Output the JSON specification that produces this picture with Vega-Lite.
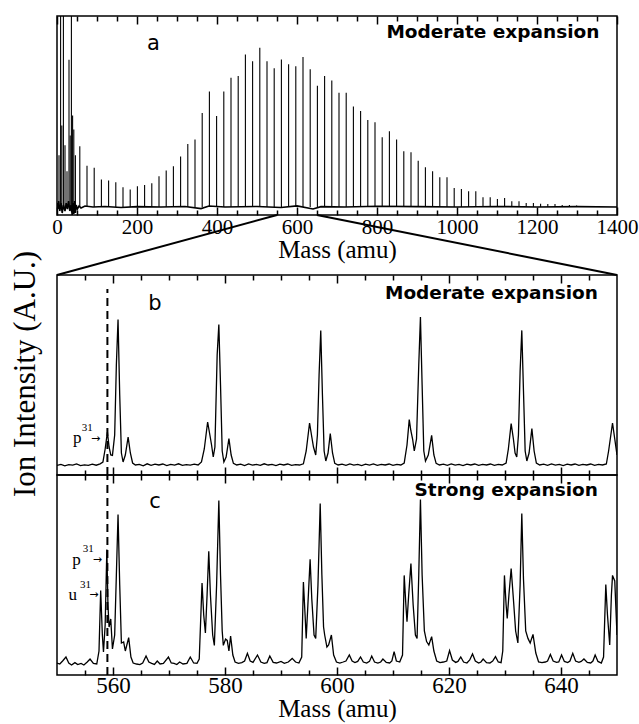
{
  "$schema": "https://vega.github.io/schema/vega-lite/v6.json",
  "background": "white",
  "padding": {"left": 8, "top": 14, "right": 5, "bottom": 5},
  "config": {
    "view": {"stroke": "black", "strokeWidth": 1.5},
    "axis": {"domain": false, "grid": false, "ticks": true, "zindex": 2, "tickColor": "black", "tickWidth": 1.5, "labelColor": "black", "titleColor": "black", "labelFont": "Liberation Serif", "titleFont": "Liberation Serif", "titleFontWeight": "normal"}
  },
  "datasets": {
    "pa": [
      {"m": 5, "i": 30}, {"m": 9, "i": 130}, {"m": 12, "i": 45}, {"m": 16, "i": 130}, {"m": 20, "i": 35}, {"m": 25, "i": 22}, {"m": 30, "i": 78}, {"m": 33, "i": 40}, {"m": 36, "i": 130}, {"m": 39, "i": 50}, {"m": 42, "i": 43}, {"m": 46, "i": 30},
      {"m": 57, "i": 34.6}, {"m": 75, "i": 24.8}, {"m": 93, "i": 23.7}, {"m": 111, "i": 17.8}, {"m": 129, "i": 17.3}, {"m": 147, "i": 16.4}, {"m": 165, "i": 13.9}, {"m": 183, "i": 12.8}, {"m": 201, "i": 14.4}, {"m": 219, "i": 15.1}, {"m": 237, "i": 15.9}, {"m": 255, "i": 19.5}, {"m": 273, "i": 22.3}, {"m": 291, "i": 24.5}, {"m": 309, "i": 29.4}, {"m": 327, "i": 35.7}, {"m": 345, "i": 37.9}, {"m": 363, "i": 51.2}, {"m": 381, "i": 62}, {"m": 399, "i": 49.8}, {"m": 417, "i": 62}, {"m": 435, "i": 69}, {"m": 453, "i": 69.8}, {"m": 471, "i": 80.7}, {"m": 489, "i": 77.2}, {"m": 507, "i": 84}, {"m": 525, "i": 77.2}, {"m": 543, "i": 73.8}, {"m": 561, "i": 78.2}, {"m": 579, "i": 75.7}, {"m": 597, "i": 74.7}, {"m": 615, "i": 79.4}, {"m": 633, "i": 73.2}, {"m": 651, "i": 65}, {"m": 669, "i": 69.8}, {"m": 687, "i": 67.6}, {"m": 705, "i": 61.4}, {"m": 723, "i": 61.4}, {"m": 741, "i": 54.5}, {"m": 759, "i": 52.3}, {"m": 777, "i": 47.8}, {"m": 795, "i": 46.6}, {"m": 813, "i": 39.1}, {"m": 831, "i": 42.1}, {"m": 849, "i": 37.9}, {"m": 867, "i": 32}, {"m": 885, "i": 31.5}, {"m": 903, "i": 27.3}, {"m": 921, "i": 24}, {"m": 939, "i": 22}, {"m": 957, "i": 19}, {"m": 975, "i": 19}, {"m": 993, "i": 13.6}, {"m": 1011, "i": 13.1}, {"m": 1029, "i": 11.9}, {"m": 1047, "i": 11.9}, {"m": 1065, "i": 8.9}, {"m": 1083, "i": 8.9}, {"m": 1101, "i": 8}, {"m": 1119, "i": 8.6}, {"m": 1137, "i": 6.9}, {"m": 1155, "i": 6.9}, {"m": 1173, "i": 6}, {"m": 1191, "i": 6}, {"m": 1209, "i": 5.7}, {"m": 1227, "i": 5.5}, {"m": 1245, "i": 5.5}, {"m": 1263, "i": 5}, {"m": 1281, "i": 5}, {"m": 1299, "i": 4.8}
    ],
    "pabase": [
      {"m": 0, "i": 6}, {"m": 2, "i": 3}, {"m": 4, "i": 7}, {"m": 7, "i": 2}, {"m": 10, "i": 6}, {"m": 13, "i": 1}, {"m": 16, "i": 5}, {"m": 20, "i": 2}, {"m": 23, "i": 6}, {"m": 26, "i": 3}, {"m": 29, "i": 7}, {"m": 32, "i": 2}, {"m": 35, "i": 5}, {"m": 38, "i": 0}, {"m": 40, "i": 6}, {"m": 42, "i": 0.5}, {"m": 44, "i": 7}, {"m": 46, "i": 1}, {"m": 48, "i": 5}, {"m": 51, "i": 3}, {"m": 55, "i": 4.5}, {"m": 60, "i": 3.5}, {"m": 70, "i": 4.5}, {"m": 90, "i": 4}, {"m": 120, "i": 4.3}, {"m": 160, "i": 3.8}, {"m": 200, "i": 4.2}, {"m": 260, "i": 4}, {"m": 320, "i": 4.3}, {"m": 360, "i": 3.2}, {"m": 380, "i": 4.5}, {"m": 420, "i": 4}, {"m": 500, "i": 4.3}, {"m": 560, "i": 3.8}, {"m": 600, "i": 4.6}, {"m": 640, "i": 3}, {"m": 660, "i": 4.2}, {"m": 720, "i": 4}, {"m": 800, "i": 4.4}, {"m": 900, "i": 4.2}, {"m": 1000, "i": 4}, {"m": 1100, "i": 4.3}, {"m": 1200, "i": 4}, {"m": 1300, "i": 4.2}, {"m": 1400, "i": 4}
    ],
    "conn": [{"m": 550, "m2": 0}, {"m": 650, "m2": 1400}],
    "dash": [{"m": 559}],
    "pb": [
      {"m": 550, "i": 4.8}, {"m": 550.7, "i": 5.3}, {"m": 551.4, "i": 4.6}, {"m": 552.1, "i": 5.2}, {"m": 552.8, "i": 4.9}, {"m": 553.5, "i": 5.5}, {"m": 554.2, "i": 4.7}, {"m": 554.9, "i": 5.1}, {"m": 555.6, "i": 4.8}, {"m": 556.3, "i": 5.4}, {"m": 557, "i": 4.9}, {"m": 557.7, "i": 5.6}, {"m": 558.2, "i": 6.5}, {"m": 558.6, "i": 13}, {"m": 559, "i": 21.5}, {"m": 559.3, "i": 14}, {"m": 559.6, "i": 10}, {"m": 559.9, "i": 9.8}, {"m": 560.3, "i": 20}, {"m": 560.6, "i": 55}, {"m": 560.9, "i": 77.7}, {"m": 561.2, "i": 40}, {"m": 561.5, "i": 11}, {"m": 561.8, "i": 6.5}, {"m": 562.2, "i": 10}, {"m": 562.7, "i": 19}, {"m": 563.1, "i": 11}, {"m": 563.5, "i": 6}, {"m": 564, "i": 5}, {"m": 564.7, "i": 5.3}, {"m": 565.4, "i": 4.6}, {"m": 566.1, "i": 5.6}, {"m": 566.8, "i": 4.8}, {"m": 567.5, "i": 5.4}, {"m": 568.2, "i": 5}, {"m": 568.9, "i": 5.5}, {"m": 569.6, "i": 4.7}, {"m": 570.3, "i": 5.3}, {"m": 571, "i": 4.9}, {"m": 571.7, "i": 5.6}, {"m": 572.4, "i": 4.8}, {"m": 573.1, "i": 5.2}, {"m": 573.8, "i": 4.9}, {"m": 574.5, "i": 5.4}, {"m": 575.2, "i": 5}, {"m": 575.8, "i": 6.5}, {"m": 576.3, "i": 13}, {"m": 576.9, "i": 26.5}, {"m": 577.3, "i": 20}, {"m": 577.6, "i": 15}, {"m": 577.9, "i": 9}, {"m": 578.2, "i": 14}, {"m": 578.6, "i": 60}, {"m": 578.9, "i": 75.2}, {"m": 579.2, "i": 45}, {"m": 579.5, "i": 12}, {"m": 579.8, "i": 6.5}, {"m": 580.2, "i": 9}, {"m": 580.7, "i": 18.2}, {"m": 581.1, "i": 10}, {"m": 581.5, "i": 5.8}, {"m": 582.1, "i": 5}, {"m": 582.8, "i": 5.4}, {"m": 583.5, "i": 4.7}, {"m": 584.2, "i": 5.5}, {"m": 584.9, "i": 4.9}, {"m": 585.6, "i": 5.3}, {"m": 586.3, "i": 4.8}, {"m": 587, "i": 5.6}, {"m": 587.7, "i": 5}, {"m": 588.4, "i": 5.3}, {"m": 589.1, "i": 4.7}, {"m": 589.8, "i": 5.4}, {"m": 590.5, "i": 5}, {"m": 591.2, "i": 5.5}, {"m": 591.9, "i": 4.8}, {"m": 592.6, "i": 5.2}, {"m": 593.3, "i": 5}, {"m": 594, "i": 5.6}, {"m": 594.5, "i": 12}, {"m": 595.1, "i": 26}, {"m": 595.5, "i": 19}, {"m": 595.8, "i": 14}, {"m": 596.2, "i": 10}, {"m": 596.5, "i": 20}, {"m": 596.8, "i": 50}, {"m": 597.1, "i": 72.3}, {"m": 597.4, "i": 40}, {"m": 597.7, "i": 12}, {"m": 598, "i": 7}, {"m": 598.4, "i": 11}, {"m": 598.8, "i": 20.7}, {"m": 599.2, "i": 11}, {"m": 599.6, "i": 5.8}, {"m": 600.2, "i": 5}, {"m": 600.9, "i": 5.4}, {"m": 601.6, "i": 4.8}, {"m": 602.3, "i": 5.5}, {"m": 603, "i": 4.9}, {"m": 603.7, "i": 5.3}, {"m": 604.4, "i": 4.7}, {"m": 605.1, "i": 5.4}, {"m": 605.8, "i": 4.9}, {"m": 606.5, "i": 5.5}, {"m": 607.2, "i": 4.8}, {"m": 607.9, "i": 5.3}, {"m": 608.6, "i": 5}, {"m": 609.3, "i": 5.5}, {"m": 610, "i": 4.8}, {"m": 610.7, "i": 5.3}, {"m": 611.4, "i": 5}, {"m": 612, "i": 6}, {"m": 612.5, "i": 15}, {"m": 612.9, "i": 27.7}, {"m": 613.2, "i": 22}, {"m": 613.5, "i": 18}, {"m": 613.8, "i": 12}, {"m": 614.2, "i": 18}, {"m": 614.6, "i": 55}, {"m": 614.9, "i": 79}, {"m": 615.2, "i": 45}, {"m": 615.5, "i": 12}, {"m": 615.8, "i": 7}, {"m": 616.3, "i": 10}, {"m": 616.9, "i": 19.8}, {"m": 617.3, "i": 10}, {"m": 617.7, "i": 5.8}, {"m": 618.3, "i": 5}, {"m": 619, "i": 5.4}, {"m": 619.7, "i": 4.8}, {"m": 620.4, "i": 5.5}, {"m": 621.1, "i": 4.9}, {"m": 621.8, "i": 5.3}, {"m": 622.5, "i": 4.7}, {"m": 623.2, "i": 5.4}, {"m": 623.9, "i": 5}, {"m": 624.6, "i": 5.5}, {"m": 625.3, "i": 4.8}, {"m": 626, "i": 5.3}, {"m": 626.7, "i": 5}, {"m": 627.4, "i": 5.5}, {"m": 628.1, "i": 4.8}, {"m": 628.8, "i": 5.3}, {"m": 629.5, "i": 5}, {"m": 630.2, "i": 6}, {"m": 630.6, "i": 13}, {"m": 631.1, "i": 25.7}, {"m": 631.5, "i": 18}, {"m": 631.8, "i": 11}, {"m": 632.1, "i": 9}, {"m": 632.4, "i": 20}, {"m": 632.7, "i": 52}, {"m": 633, "i": 72.3}, {"m": 633.3, "i": 42}, {"m": 633.6, "i": 12}, {"m": 633.9, "i": 7}, {"m": 634.3, "i": 11}, {"m": 634.8, "i": 23.2}, {"m": 635.2, "i": 12}, {"m": 635.6, "i": 6}, {"m": 636.2, "i": 5}, {"m": 636.9, "i": 5.4}, {"m": 637.6, "i": 4.8}, {"m": 638.3, "i": 5.5}, {"m": 639, "i": 4.9}, {"m": 639.7, "i": 5.3}, {"m": 640.4, "i": 4.7}, {"m": 641.1, "i": 5.4}, {"m": 641.8, "i": 5}, {"m": 642.5, "i": 5.5}, {"m": 643.2, "i": 4.8}, {"m": 643.9, "i": 5.3}, {"m": 644.6, "i": 5}, {"m": 645.3, "i": 5.5}, {"m": 646, "i": 4.8}, {"m": 646.7, "i": 5.3}, {"m": 647.4, "i": 5}, {"m": 648.1, "i": 5.5}, {"m": 648.5, "i": 12}, {"m": 649.2, "i": 26}, {"m": 649.6, "i": 18}, {"m": 650, "i": 10}
    ],
    "pc": [
      {"m": 550, "i": 6}, {"m": 550.5, "i": 5.5}, {"m": 551, "i": 7}, {"m": 551.6, "i": 9}, {"m": 552.1, "i": 6}, {"m": 552.6, "i": 5}, {"m": 553.2, "i": 6.2}, {"m": 553.7, "i": 5.2}, {"m": 554.3, "i": 5.8}, {"m": 554.8, "i": 5}, {"m": 555.4, "i": 6.5}, {"m": 555.9, "i": 8}, {"m": 556.5, "i": 5.8}, {"m": 557.1, "i": 5.5}, {"m": 557.5, "i": 12}, {"m": 557.8, "i": 42.3}, {"m": 558.1, "i": 20}, {"m": 558.3, "i": 11.5}, {"m": 558.6, "i": 25}, {"m": 558.9, "i": 62.7}, {"m": 559.1, "i": 35}, {"m": 559.3, "i": 24}, {"m": 559.6, "i": 28}, {"m": 559.9, "i": 13}, {"m": 560.3, "i": 20}, {"m": 560.6, "i": 50}, {"m": 560.9, "i": 80.3}, {"m": 561.2, "i": 45}, {"m": 561.5, "i": 16}, {"m": 561.9, "i": 16.5}, {"m": 562.2, "i": 12}, {"m": 562.8, "i": 18.7}, {"m": 563.2, "i": 9}, {"m": 563.6, "i": 6}, {"m": 564.2, "i": 5.5}, {"m": 564.8, "i": 5.2}, {"m": 565.3, "i": 6}, {"m": 565.9, "i": 9.5}, {"m": 566.4, "i": 6.5}, {"m": 566.9, "i": 5.8}, {"m": 567.4, "i": 5.3}, {"m": 567.9, "i": 7}, {"m": 568.4, "i": 5.5}, {"m": 569, "i": 5.8}, {"m": 569.9, "i": 9}, {"m": 570.4, "i": 6}, {"m": 570.9, "i": 5.8}, {"m": 571.4, "i": 5.2}, {"m": 571.9, "i": 6.5}, {"m": 572.5, "i": 5.5}, {"m": 573.2, "i": 5.8}, {"m": 573.8, "i": 9}, {"m": 574.4, "i": 6}, {"m": 575, "i": 5.8}, {"m": 575.4, "i": 8}, {"m": 575.9, "i": 46}, {"m": 576.2, "i": 30}, {"m": 576.5, "i": 21}, {"m": 576.8, "i": 40}, {"m": 577.1, "i": 61.8}, {"m": 577.4, "i": 40}, {"m": 577.8, "i": 20}, {"m": 578.1, "i": 14.8}, {"m": 578.5, "i": 45}, {"m": 578.9, "i": 87.3}, {"m": 579.2, "i": 50}, {"m": 579.5, "i": 22}, {"m": 579.7, "i": 14.8}, {"m": 580.1, "i": 18}, {"m": 580.4, "i": 17.3}, {"m": 580.7, "i": 12}, {"m": 581, "i": 19.5}, {"m": 581.4, "i": 10}, {"m": 581.8, "i": 6.5}, {"m": 582.4, "i": 5.8}, {"m": 583, "i": 6.2}, {"m": 583.5, "i": 7}, {"m": 584, "i": 10.8}, {"m": 584.5, "i": 7}, {"m": 585, "i": 6.3}, {"m": 585.8, "i": 10}, {"m": 586.4, "i": 6.5}, {"m": 587, "i": 5.8}, {"m": 587.5, "i": 6.2}, {"m": 588, "i": 9.5}, {"m": 588.6, "i": 6.3}, {"m": 589.2, "i": 6}, {"m": 590, "i": 6.8}, {"m": 590.6, "i": 5.8}, {"m": 591.3, "i": 6.5}, {"m": 592, "i": 8.3}, {"m": 592.6, "i": 6.5}, {"m": 593.2, "i": 6}, {"m": 593.7, "i": 9}, {"m": 594, "i": 46.5}, {"m": 594.3, "i": 30}, {"m": 594.5, "i": 18.3}, {"m": 594.8, "i": 35}, {"m": 595.2, "i": 57.8}, {"m": 595.5, "i": 38}, {"m": 595.9, "i": 20}, {"m": 596.2, "i": 18.3}, {"m": 596.6, "i": 45}, {"m": 597, "i": 85.7}, {"m": 597.3, "i": 50}, {"m": 597.6, "i": 24}, {"m": 597.8, "i": 20}, {"m": 598.2, "i": 14}, {"m": 598.5, "i": 15}, {"m": 599, "i": 20}, {"m": 599.4, "i": 10}, {"m": 599.9, "i": 6.5}, {"m": 600.5, "i": 6}, {"m": 601.1, "i": 6.5}, {"m": 601.6, "i": 7}, {"m": 602.2, "i": 10}, {"m": 602.7, "i": 7}, {"m": 603.2, "i": 6.2}, {"m": 603.7, "i": 6.8}, {"m": 604.2, "i": 9}, {"m": 604.7, "i": 6.5}, {"m": 605.3, "i": 6}, {"m": 605.8, "i": 6.8}, {"m": 606.2, "i": 9.5}, {"m": 606.7, "i": 6.5}, {"m": 607.3, "i": 6}, {"m": 607.8, "i": 6.5}, {"m": 608.2, "i": 8}, {"m": 608.8, "i": 6.3}, {"m": 609.4, "i": 6}, {"m": 609.8, "i": 7}, {"m": 610.2, "i": 11.7}, {"m": 610.6, "i": 7}, {"m": 611.2, "i": 6.5}, {"m": 611.7, "i": 10}, {"m": 612, "i": 49.8}, {"m": 612.3, "i": 35}, {"m": 612.5, "i": 26.7}, {"m": 612.8, "i": 40}, {"m": 613.2, "i": 55.7}, {"m": 613.6, "i": 35}, {"m": 614, "i": 20}, {"m": 614.3, "i": 18.3}, {"m": 614.6, "i": 50}, {"m": 614.9, "i": 87.8}, {"m": 615.2, "i": 50}, {"m": 615.6, "i": 22}, {"m": 616, "i": 16.7}, {"m": 616.4, "i": 15}, {"m": 616.9, "i": 19.2}, {"m": 617.3, "i": 12}, {"m": 617.8, "i": 7}, {"m": 618.4, "i": 6.2}, {"m": 619, "i": 6.5}, {"m": 619.6, "i": 7}, {"m": 620.1, "i": 12.2}, {"m": 620.6, "i": 7.5}, {"m": 621.2, "i": 6.3}, {"m": 621.6, "i": 6.8}, {"m": 622.1, "i": 9}, {"m": 622.6, "i": 6.5}, {"m": 623.2, "i": 6}, {"m": 623.7, "i": 7.5}, {"m": 624.2, "i": 10.5}, {"m": 624.7, "i": 7}, {"m": 625.3, "i": 6}, {"m": 625.7, "i": 6.5}, {"m": 626.1, "i": 8}, {"m": 626.7, "i": 6.2}, {"m": 627.3, "i": 6}, {"m": 627.8, "i": 7}, {"m": 628.3, "i": 9.2}, {"m": 628.8, "i": 6.5}, {"m": 629.3, "i": 6.2}, {"m": 629.6, "i": 12}, {"m": 629.9, "i": 49.8}, {"m": 630.2, "i": 35}, {"m": 630.4, "i": 28.3}, {"m": 630.7, "i": 40}, {"m": 631.1, "i": 53.2}, {"m": 631.5, "i": 38}, {"m": 631.9, "i": 22}, {"m": 632.3, "i": 16}, {"m": 632.7, "i": 45}, {"m": 633, "i": 80.7}, {"m": 633.3, "i": 48}, {"m": 633.7, "i": 22}, {"m": 634.1, "i": 18.3}, {"m": 634.5, "i": 16}, {"m": 635, "i": 20.3}, {"m": 635.5, "i": 11}, {"m": 636, "i": 6.5}, {"m": 636.6, "i": 6.2}, {"m": 637.2, "i": 6.5}, {"m": 637.6, "i": 7}, {"m": 638.1, "i": 10.3}, {"m": 638.6, "i": 7}, {"m": 639.2, "i": 6.3}, {"m": 639.6, "i": 6.5}, {"m": 640.1, "i": 10}, {"m": 640.6, "i": 6.8}, {"m": 641.2, "i": 6.2}, {"m": 641.6, "i": 7}, {"m": 642.1, "i": 10.8}, {"m": 642.6, "i": 7}, {"m": 643.2, "i": 6.3}, {"m": 643.6, "i": 6.8}, {"m": 644.1, "i": 8}, {"m": 644.7, "i": 6.3}, {"m": 645.3, "i": 6}, {"m": 645.7, "i": 7}, {"m": 646.1, "i": 10}, {"m": 646.6, "i": 6.8}, {"m": 647.2, "i": 6}, {"m": 647.6, "i": 9}, {"m": 648, "i": 45.2}, {"m": 648.3, "i": 30}, {"m": 648.7, "i": 15}, {"m": 649, "i": 40}, {"m": 649.2, "i": 49.8}, {"m": 649.6, "i": 47}, {"m": 650, "i": 20}
    ],
    "labels": [
      {"p": "a", "k": "panel", "t": "a", "m": 241, "i": 86},
      {"p": "b", "k": "panel", "t": "b", "m": 567.5, "i": 85.6},
      {"p": "c", "k": "panel", "t": "c", "m": 567.5, "i": 86.5},
      {"p": "a", "k": "cond", "t": "Moderate expansion", "m": 1356, "i": 92},
      {"p": "b", "k": "cond", "t": "Moderate expansion", "m": 646.6, "i": 91},
      {"p": "c", "k": "cond", "t": "Strong expansion", "m": 646.6, "i": 92.3},
      {"p": "b", "k": "ion", "t": "p", "m": 553.6, "i": 16.2},
      {"p": "c", "k": "ion", "t": "p", "m": 553.5, "i": 54.8},
      {"p": "c", "k": "ion", "t": "u", "m": 552.8, "i": 37.3},
      {"p": "b", "k": "sup", "t": "31", "m": 555.4, "i": 21.8},
      {"p": "c", "k": "sup", "t": "31", "m": 555.6, "i": 61.5},
      {"p": "c", "k": "sup", "t": "31", "m": 555.1, "i": 43.5},
      {"p": "b", "k": "arrow", "t": "→", "m": 556.9, "i": 18.2},
      {"p": "c", "k": "arrow", "t": "→", "m": 557.2, "i": 57.3},
      {"p": "c", "k": "arrow", "t": "→", "m": 556.6, "i": 39.8},
      {"p": "b", "k": "ytitle", "t": "Ion Intensity (A.U.)", "m": 544.4, "i": 50.5}
    ]
  },
  "bounds": "flush",
  "spacing": 60,
  "vconcat": [
    {
      "width": 560,
      "height": 199,
      "resolve": {"axis": {"x": "independent"}},
      "layer": [
        {
          "data": {"name": "pa"},
          "mark": {"type": "rule", "color": "black", "strokeWidth": 1.1, "clip": true},
          "encoding": {
            "x": {"field": "m", "type": "quantitative", "scale": {"domain": [0, 1400], "nice": false, "zero": false},
              "axis": {"orient": "bottom", "values": [0,200,400,600,800,1000,1200,1400], "format": "d",
                "offset": -8, "tickSize": 8,
                "labelFontSize": 21, "labelPadding": 1, "labelFlush": false, "labelOverlap": false,
                "title": "Mass (amu)", "titleFontSize": 25, "titlePadding": 0}},
            "y": {"field": "i", "type": "quantitative", "scale": {"domain": [0, 100], "nice": false}, "axis": null},
            "y2": {"datum": 4}
          }
        },
        {
          "data": {"name": "pabase"},
          "mark": {"type": "line", "color": "black", "strokeWidth": 1.6, "clip": true},
          "encoding": {
            "x": {"field": "m", "type": "quantitative", "scale": {"domain": [0, 1400], "nice": false, "zero": false},
              "axis": {"orient": "bottom", "values": [50,100,150,250,300,350,450,500,550,650,700,750,850,900,950,1050,1100,1150,1250,1300,1350],
                "offset": -5, "tickSize": 5, "labels": false, "title": null}},
            "y": {"field": "i", "type": "quantitative", "scale": {"domain": [0, 100], "nice": false}, "axis": null}
          }
        },
        {
          "data": {"name": "conn"},
          "mark": {"type": "rule", "color": "black", "strokeWidth": 2, "clip": false},
          "encoding": {
            "x": {"field": "m", "type": "quantitative", "scale": {"domain": [0, 1400], "nice": false, "zero": false},
              "axis": {"orient": "top", "values": [0,200,400,600,800,1000,1200,1400],
                "offset": -8, "tickSize": 8, "labels": false, "title": null}},
            "x2": {"field": "m2"},
            "y": {"datum": 0, "type": "quantitative", "axis": null},
            "y2": {"datum": -30.15}
          }
        },
        {
          "data": {"name": "labels"},
          "transform": [{"filter": "datum.p === 'a' && datum.k === 'panel'"}],
          "mark": {"type": "text", "font": "DejaVu Sans", "fontSize": 21, "color": "black", "align": "center", "baseline": "middle"},
          "encoding": {
            "x": {"field": "m", "type": "quantitative", "scale": {"domain": [0, 1400], "nice": false, "zero": false},
              "axis": {"orient": "top", "values": [50,100,150,250,300,350,450,500,550,650,700,750,850,900,950,1050,1100,1150,1250,1300,1350],
                "offset": -5, "tickSize": 5, "labels": false, "title": null}},
            "y": {"field": "i", "type": "quantitative", "axis": null},
            "text": {"field": "t"}
          }
        },
        {
          "data": {"name": "labels"},
          "transform": [{"filter": "datum.p === 'a' && datum.k === 'cond'"}],
          "mark": {"type": "text", "font": "DejaVu Sans", "fontWeight": "bold", "fontSize": 18.5, "color": "black", "align": "right", "baseline": "middle"},
          "encoding": {
            "x": {"field": "m", "type": "quantitative", "axis": null},
            "y": {"field": "i", "type": "quantitative", "axis": null},
            "text": {"field": "t"}
          }
        }
      ]
    },
    {
      "bounds": "flush",
      "spacing": 0,
      "vconcat": [
        {
          "width": 560,
          "height": 200,
          "resolve": {"axis": {"x": "independent"}},
          "layer": [
            {
              "data": {"name": "pb"},
              "mark": {"type": "line", "color": "black", "strokeWidth": 1.3, "clip": true},
              "encoding": {
                "x": {"field": "m", "type": "quantitative", "scale": {"domain": [550, 650], "nice": false, "zero": false},
                  "axis": {"orient": "bottom", "values": [560,580,600,620,640], "offset": -8, "tickSize": 8, "labels": false, "title": null}},
                "y": {"field": "i", "type": "quantitative", "scale": {"domain": [0, 100], "nice": false}, "axis": null}
              }
            },
            {
              "data": {"name": "dash"},
              "mark": {"type": "rule", "color": "black", "strokeWidth": 2, "strokeDash": [8, 5]},
              "encoding": {
                "x": {"field": "m", "type": "quantitative", "scale": {"domain": [550, 650], "nice": false, "zero": false},
                  "axis": {"orient": "top", "values": [560,580,600,620,640], "offset": -8, "tickSize": 8, "labels": false, "title": null}},
                "y": {"datum": 0, "type": "quantitative", "axis": null},
                "y2": {"datum": 93}
              }
            },
            {
              "data": {"name": "labels"},
              "transform": [{"filter": "datum.p === 'b' && datum.k === 'panel'"}],
              "mark": {"type": "text", "font": "DejaVu Sans", "fontSize": 21, "color": "black", "align": "center", "baseline": "middle"},
              "encoding": {
                "x": {"field": "m", "type": "quantitative", "scale": {"domain": [550, 650], "nice": false, "zero": false},
                  "axis": {"orient": "bottom", "values": [555,565,570,575,585,590,595,605,610,615,625,630,635,645], "offset": -5, "tickSize": 5, "labels": false, "title": null}},
                "y": {"field": "i", "type": "quantitative", "axis": null}, "text": {"field": "t"}}
            },
            {
              "data": {"name": "labels"},
              "transform": [{"filter": "datum.p === 'b' && datum.k === 'cond'"}],
              "mark": {"type": "text", "font": "DejaVu Sans", "fontWeight": "bold", "fontSize": 18.5, "color": "black", "align": "right", "baseline": "middle"},
              "encoding": {
                "x": {"field": "m", "type": "quantitative", "scale": {"domain": [550, 650], "nice": false, "zero": false},
                  "axis": {"orient": "top", "values": [555,565,570,575,585,590,595,605,610,615,625,630,635,645], "offset": -5, "tickSize": 5, "labels": false, "title": null}},
                "y": {"field": "i", "type": "quantitative", "axis": null}, "text": {"field": "t"}}
            },
            {
              "data": {"name": "labels"},
              "transform": [{"filter": "datum.p === 'b' && datum.k === 'ion'"}],
              "mark": {"type": "text", "font": "Liberation Serif", "fontSize": 17, "color": "black", "align": "center", "baseline": "alphabetic"},
              "encoding": {"x": {"field": "m", "type": "quantitative", "axis": null}, "y": {"field": "i", "type": "quantitative", "axis": null}, "text": {"field": "t"}}
            },
            {
              "data": {"name": "labels"},
              "transform": [{"filter": "datum.p === 'b' && datum.k === 'sup'"}],
              "mark": {"type": "text", "font": "Liberation Serif", "fontSize": 11, "color": "black", "align": "center", "baseline": "alphabetic"},
              "encoding": {"x": {"field": "m", "type": "quantitative", "axis": null}, "y": {"field": "i", "type": "quantitative", "axis": null}, "text": {"field": "t"}}
            },
            {
              "data": {"name": "labels"},
              "transform": [{"filter": "datum.p === 'b' && datum.k === 'arrow'"}],
              "mark": {"type": "text", "font": "DejaVu Sans", "fontSize": 11, "color": "black", "align": "center", "baseline": "middle"},
              "encoding": {"x": {"field": "m", "type": "quantitative", "axis": null}, "y": {"field": "i", "type": "quantitative", "axis": null}, "text": {"field": "t"}}
            },
            {
              "data": {"name": "labels"},
              "transform": [{"filter": "datum.p === 'b' && datum.k === 'ytitle'"}],
              "mark": {"type": "text", "font": "Liberation Serif", "fontSize": 31, "color": "black", "align": "center", "baseline": "middle", "angle": 270, "clip": false},
              "encoding": {"x": {"field": "m", "type": "quantitative", "axis": null}, "y": {"field": "i", "type": "quantitative", "axis": null}, "text": {"field": "t"}}
            }
          ]
        },
        {
          "width": 560,
          "height": 200,
          "resolve": {"axis": {"x": "independent"}},
          "layer": [
            {
              "data": {"name": "pc"},
              "mark": {"type": "line", "color": "black", "strokeWidth": 1.3, "clip": true},
              "encoding": {
                "x": {"field": "m", "type": "quantitative", "scale": {"domain": [550, 650], "nice": false, "zero": false},
                  "axis": {"orient": "bottom", "values": [560,580,600,620,640], "format": "d",
                    "offset": -8, "tickSize": 8,
                    "labelFontSize": 23, "labelPadding": -1, "labelFlush": false, "labelOverlap": false,
                    "title": "Mass (amu)", "titleFontSize": 25, "titlePadding": -1}},
                "y": {"field": "i", "type": "quantitative", "scale": {"domain": [0, 100], "nice": false}, "axis": null}
              }
            },
            {
              "data": {"name": "dash"},
              "mark": {"type": "rule", "color": "black", "strokeWidth": 2, "strokeDash": [8, 5]},
              "encoding": {
                "x": {"field": "m", "type": "quantitative", "scale": {"domain": [550, 650], "nice": false, "zero": false},
                  "axis": {"orient": "top", "values": [560,580,600,620,640], "offset": -8, "tickSize": 8, "labels": false, "title": null}},
                "y": {"datum": 0, "type": "quantitative", "axis": null},
                "y2": {"datum": 100}
              }
            },
            {
              "data": {"name": "labels"},
              "transform": [{"filter": "datum.p === 'c' && datum.k === 'panel'"}],
              "mark": {"type": "text", "font": "DejaVu Sans", "fontSize": 21, "color": "black", "align": "center", "baseline": "middle"},
              "encoding": {
                "x": {"field": "m", "type": "quantitative", "scale": {"domain": [550, 650], "nice": false, "zero": false},
                  "axis": {"orient": "bottom", "values": [555,565,570,575,585,590,595,605,610,615,625,630,635,645], "offset": -5, "tickSize": 5, "labels": false, "title": null}},
                "y": {"field": "i", "type": "quantitative", "axis": null}, "text": {"field": "t"}}
            },
            {
              "data": {"name": "labels"},
              "transform": [{"filter": "datum.p === 'c' && datum.k === 'cond'"}],
              "mark": {"type": "text", "font": "DejaVu Sans", "fontWeight": "bold", "fontSize": 18.5, "color": "black", "align": "right", "baseline": "middle"},
              "encoding": {
                "x": {"field": "m", "type": "quantitative", "scale": {"domain": [550, 650], "nice": false, "zero": false},
                  "axis": {"orient": "top", "values": [555,565,570,575,585,590,595,605,610,615,625,630,635,645], "offset": -5, "tickSize": 5, "labels": false, "title": null}},
                "y": {"field": "i", "type": "quantitative", "axis": null}, "text": {"field": "t"}}
            },
            {
              "data": {"name": "labels"},
              "transform": [{"filter": "datum.p === 'c' && datum.k === 'ion'"}],
              "mark": {"type": "text", "font": "Liberation Serif", "fontSize": 17, "color": "black", "align": "center", "baseline": "alphabetic"},
              "encoding": {"x": {"field": "m", "type": "quantitative", "axis": null}, "y": {"field": "i", "type": "quantitative", "axis": null}, "text": {"field": "t"}}
            },
            {
              "data": {"name": "labels"},
              "transform": [{"filter": "datum.p === 'c' && datum.k === 'sup'"}],
              "mark": {"type": "text", "font": "Liberation Serif", "fontSize": 11, "color": "black", "align": "center", "baseline": "alphabetic"},
              "encoding": {"x": {"field": "m", "type": "quantitative", "axis": null}, "y": {"field": "i", "type": "quantitative", "axis": null}, "text": {"field": "t"}}
            },
            {
              "data": {"name": "labels"},
              "transform": [{"filter": "datum.p === 'c' && datum.k === 'arrow'"}],
              "mark": {"type": "text", "font": "DejaVu Sans", "fontSize": 11, "color": "black", "align": "center", "baseline": "middle"},
              "encoding": {"x": {"field": "m", "type": "quantitative", "axis": null}, "y": {"field": "i", "type": "quantitative", "axis": null}, "text": {"field": "t"}}
            }
          ]
        }
      ]
    }
  ]
}
